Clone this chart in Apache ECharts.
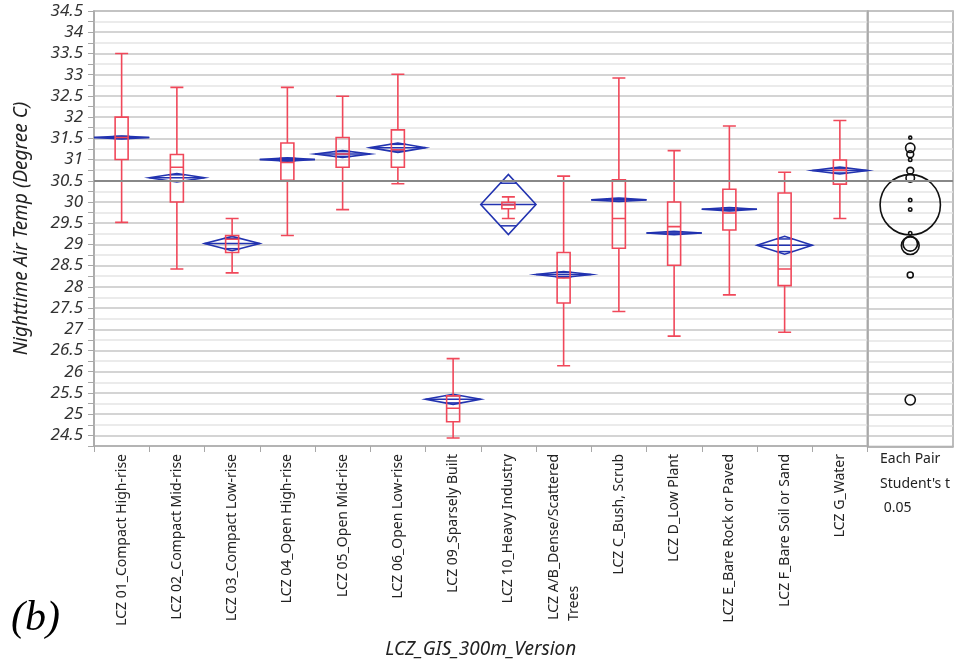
<!DOCTYPE html>
<html>
<head>
<meta charset="utf-8">
<script src="https://cdn.jsdelivr.net/npm/echarts@6/dist/echarts.min.js"></script>
<style>html,body{margin:0;padding:0;background:#fff;}#chart{width:962px;height:664px;}</style>
</head>
<body>
<div id="chart"></div>
<script>
// ---- Data ----
const categories = [
  'LCZ 01_Compact High-rise', 'LCZ 02_Compact Mid-rise', 'LCZ 03_Compact Low-rise',
  'LCZ 04_Open High-rise', 'LCZ 05_Open Mid-rise', 'LCZ 06_Open Low-rise',
  'LCZ 09_Sparsely Built', 'LCZ 10_Heavy Industry', 'LCZ A/B_Dense/Scattered Trees',
  'LCZ C_Bush, Scrub', 'LCZ D_Low Plant', 'LCZ E_Bare Rock or Paved',
  'LCZ F_Bare Soil or Sand', 'LCZ G_Water'
];
const whiskerLow  = [29.52, 28.42, 28.33, 29.21, 29.82, 30.43, 24.44, 29.61, 26.14, 27.42, 26.84, 27.81, 26.93, 29.61];
const quartile1   = [31.00, 30.00, 28.81, 30.51, 30.82, 30.82, 24.82, 29.84, 27.62, 28.91, 28.51, 29.34, 28.03, 30.42];
const medians     = [31.52, 30.82, 29.12, 30.93, 31.13, 31.23, 25.14, 29.93, 28.21, 29.61, 29.42, 29.74, 28.42, 30.75];
const quartile3   = [32.00, 31.12, 29.21, 31.39, 31.52, 31.70, 25.43, 29.99, 28.81, 30.52, 30.00, 30.30, 30.21, 30.99];
const whiskerHigh = [33.50, 32.70, 29.61, 32.70, 32.49, 33.01, 26.31, 30.12, 30.61, 32.92, 31.21, 31.79, 30.70, 31.92];
const means       = [31.52, 30.57, 29.02, 31.00, 31.13, 31.28, 25.35, 29.94, 28.29, 30.05, 29.27, 29.83, 28.98, 30.74];
const ciHalf      = [0.035, 0.10, 0.17, 0.04, 0.08, 0.11, 0.12, 0.71, 0.07, 0.04, 0.04, 0.04, 0.21, 0.08];
const grandMean = 30.5;
const yTickLabels = ['24.5','25','25.5','26','26.5','27','27.5','28','28.5','29','29.5','30','30.5','31','31.5','32','32.5','33','33.5','34','34.5'];
const pairLabels = ['Each Pair', "Student's t", ' 0.05'];

// ---- Styling ----
const FONT = 'Noto Sans';
const RED = '#f0485a';
const BLUE = '#2233b0';
const FRAME = '#a8a8a8';
const GRID_MAJOR = '#c6c6c6';
const GRID_MINOR = '#e4e4e4';

const chart = echarts.init(document.getElementById('chart'), null, {renderer: 'canvas'});

function yLabel(v) {
  const s = String(+(+v).toFixed(2));
  return yTickLabels.indexOf(s) >= 0 ? s : '';
}

const boxData = categories.map((c, i) => [whiskerLow[i], quartile1[i], medians[i], quartile3[i], whiskerHigh[i]]);
const diamondData = categories.map((c, i) => [i, means[i], ciHalf[i]]);
const circleData = categories.map((c, i) => [0.5, means[i], ciHalf[i]]);

function yAxisBase(gridIndex) {
  return {
    type: 'value', gridIndex: gridIndex, min: 24.25, max: 34.5, interval: 0.25,
    axisLine: {show: true, lineStyle: {color: FRAME, width: 1.5}},
    axisTick: {show: gridIndex === 0, length: 6, lineStyle: {color: FRAME, width: 1}},
    axisLabel: {show: gridIndex === 0, formatter: yLabel, fontFamily: FONT, fontStyle: 'italic', fontSize: 17, color: '#333', margin: 11},
    splitLine: {show: true, lineStyle: {color: [GRID_MINOR, GRID_MAJOR], width: 1.5}}
  };
}

const option = {
  backgroundColor: '#fff',
  animation: false,
  grid: [
    {left: 94, top: 11, width: 773.5, height: 435.6, show: true, borderColor: FRAME, borderWidth: 1.5, backgroundColor: 'transparent'},
    {left: 867.5, top: 11, width: 85.5, height: 435.6, show: true, borderColor: FRAME, borderWidth: 1.5, backgroundColor: 'transparent'}
  ],
  xAxis: [
    {
      type: 'category', gridIndex: 0, data: categories, boundaryGap: true,
      axisLine: {show: true, lineStyle: {color: FRAME, width: 1.5}},
      axisTick: {show: true, length: 6, alignWithLabel: false, lineStyle: {color: FRAME}},
      axisLabel: {
        interval: 0, rotate: 90, margin: 8, fontFamily: FONT, fontSize: 14, color: '#222',
        formatter: function (v) {
          if (v === 'LCZ A/B_Dense/Scattered Trees') return '{a|LCZ A/B_Dense/Scattered}\n{b|Trees}';
          return v;
        },
        rich: {
          a: {fontFamily: FONT, fontSize: 14, color: '#222', lineHeight: 20},
          b: {fontFamily: FONT, fontSize: 14, color: '#222', lineHeight: 20, width: 167, align: 'left'}
        }
      },
      splitLine: {show: false},
      name: 'LCZ_GIS_300m_Version', nameLocation: 'middle', nameGap: 194,
      nameTextStyle: {fontFamily: FONT, fontStyle: 'italic', fontSize: 19, color: '#222'}
    },
    {
      type: 'value', gridIndex: 1, min: 0, max: 1,
      axisLine: {show: true, lineStyle: {color: FRAME, width: 1.5}},
      axisTick: {show: false}, axisLabel: {show: false}, splitLine: {show: false}
    }
  ],
  yAxis: [
    Object.assign(yAxisBase(0), {
      name: 'Nighttime Air Temp (Degree C)', nameLocation: 'middle', nameGap: 63,
      nameTextStyle: {fontFamily: FONT, fontStyle: 'italic', fontSize: 19, color: '#222'}
    }),
    yAxisBase(1)
  ],
  graphic: [
    {type: 'text', left: 11, top: 598, style: {text: '(b)', font: 'italic 42px "Liberation Serif"', fill: '#000'}},
    {type: 'text', left: 880, top: 452, style: {text: pairLabels[0], font: '14px "Noto Sans"', fill: '#222'}},
    {type: 'text', left: 880, top: 477, style: {text: pairLabels[1], font: '14px "Noto Sans"', fill: '#222'}},
    {type: 'text', left: 880, top: 501, style: {text: pairLabels[2], font: '14px "Noto Sans"', fill: '#222'}}
  ],
  series: [
    {
      type: 'custom', xAxisIndex: 0, yAxisIndex: 0, data: diamondData, z: 2,
      renderItem: function (params, api) {
        const i = api.value(0), m = api.value(1), h = api.value(2);
        const c = api.coord([i, m]);
        const t = api.coord([i, m + h]);
        const b = api.coord([i, m - h]);
        const half = api.size([1, 0])[0] / 2;
        const L = c[0] - half, R = c[0] + half;
        const dy = (c[1] - t[1]) / Math.SQRT2;
        const hw = half * (1 - 1 / Math.SQRT2);
        const st = {stroke: BLUE, lineWidth: 1.5, fill: null};
        return {
          type: 'group',
          children: [
            {type: 'polygon', shape: {points: [[L, c[1]], [c[0], t[1]], [R, c[1]], [c[0], b[1]]]}, style: {stroke: BLUE, lineWidth: 1.6, fill: null}},
            {type: 'line', shape: {x1: L, y1: c[1], x2: R, y2: c[1]}, style: st},
            {type: 'line', shape: {x1: c[0] - hw, y1: c[1] - dy, x2: c[0] + hw, y2: c[1] - dy}, style: st},
            {type: 'line', shape: {x1: c[0] - hw, y1: c[1] + dy, x2: c[0] + hw, y2: c[1] + dy}, style: st}
          ]
        };
      },
      markLine: {
        silent: true, symbol: 'none', label: {show: false},
        lineStyle: {color: '#888', width: 1.8, type: 'solid'},
        data: [{yAxis: grandMean}]
      }
    },
    {
      type: 'boxplot', xAxisIndex: 0, yAxisIndex: 0, data: boxData, z: 3,
      boxWidth: [13, 13],
      itemStyle: {color: 'rgba(0,0,0,0)', borderColor: RED, borderWidth: 1.6},
      emphasis: {disabled: true}
    },
    {
      type: 'custom', xAxisIndex: 1, yAxisIndex: 1, data: circleData, z: 3,
      renderItem: function (params, api) {
        const c = api.coord([api.value(0), api.value(1)]);
        const r = api.size([0, api.value(2)])[1];
        return {
          type: 'circle', shape: {cx: c[0], cy: c[1], r: Math.max(r, 1.3)},
          style: {stroke: '#111', lineWidth: 1.6, fill: null}
        };
      },
      markLine: {
        silent: true, symbol: 'none', label: {show: false},
        lineStyle: {color: '#888', width: 1.8, type: 'solid'},
        data: [{yAxis: grandMean}]
      }
    }
  ]
};
chart.setOption(option);
</script>
</body>
</html>
